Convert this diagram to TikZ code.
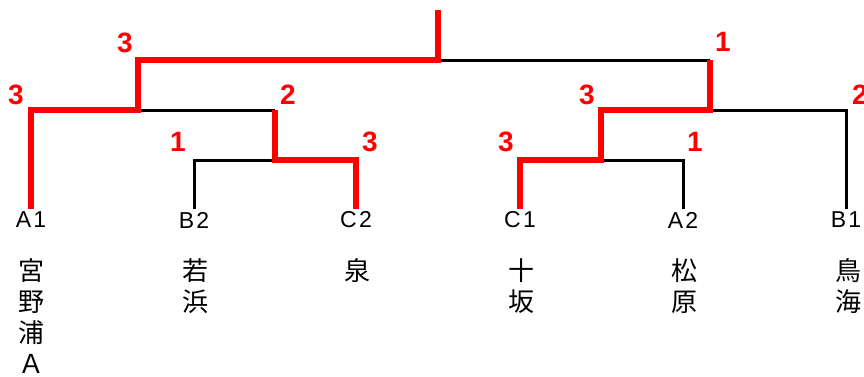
\documentclass[tikz,border=0pt]{standalone}
\usepackage{fontspec}
\setmainfont{Liberation Sans}
\newfontfamily\codefont[LetterSpace=10]{Liberation Sans}
\newfontfamily\jfont{Noto Sans CJK JP}
\usetikzlibrary{calc}

\begin{document}
\begin{tikzpicture}[x=1pt,y=-1pt,
	lose/.style={draw=black,line width=3pt},
	win/.style={draw=red,line width=6pt,line join=miter},
	score/.style={text=red,inner sep=0pt,font=\fontsize{28}{28}\selectfont\bfseries},
	code/.style={inner sep=3pt,font=\codefont\fontsize{23}{23}\selectfont},
	team/.style={anchor=north,align=center,inner sep=0pt,font=\jfont\fontsize{26}{31}\selectfont}]
	\useasboundingbox (0,0) rectangle (864,376);

	\node[code] (A1) at (31, 220) {A1};
	\node[code] (B2) at (194, 220) {B2};
	\node[code] (C2) at (356, 220) {C2};
	\node[code] (C1) at (520, 220) {C1};
	\node[code] (A2) at (683, 220) {A2};
	\node[code] (B1) at (846, 220) {B1};

	\node[team] (t1) at (31, 258) {宮\\野\\浦\\Ａ};
	\node[team] (t2) at (195, 258) {若\\浜};
	\node[team] (t3) at (357, 258) {泉};
	\node[team] (t4) at (521, 258) {十\\坂};
	\node[team] (t5) at (684, 258) {松\\原};
	\node[team] (t6) at (848, 258) {鳥\\海};

	\coordinate (m1) at (275, 160);
	\coordinate (m2) at (138, 110);
	\coordinate (m3) at (601, 160);
	\coordinate (m4) at (710, 110);
	\coordinate (f) at (438, 60);
	\coordinate (top) at (438, 10);

	\draw[lose] (B2.north) |- (m1);
	\draw[lose] (m1 |- m2) -- (m2);
	\draw[lose] (A2.north) |- (m3);
	\draw[lose] (B1.north) |- (m4);
	\draw[lose] (f) -- (m4 |- f);

	\draw[win] (C2.north) |- (m1) -- (m1 |- m2);
	\draw[win] (A1.north) |- (m2) -- (m2 |- f) -- (f) -- (top);
	\draw[win] (C1.north) |- (m3) -- (m3 |- m4) -- (m4) -- (m4 |- f);

	\node[score] (s1) at (16, 95) {3};
	\node[score] (s2) at (125, 43) {3};
	\node[score] (s3) at (288, 95) {2};
	\node[score] (s4) at (178, 142) {1};
	\node[score] (s5) at (370, 142) {3};
	\node[score] (s6) at (723, 42) {1};
	\node[score] (s7) at (587, 95) {3};
	\node[score] (s8) at (860, 95) {2};
	\node[score] (s9) at (506, 142) {3};
	\node[score] (s10) at (695, 142) {1};
\end{tikzpicture}
\end{document}
